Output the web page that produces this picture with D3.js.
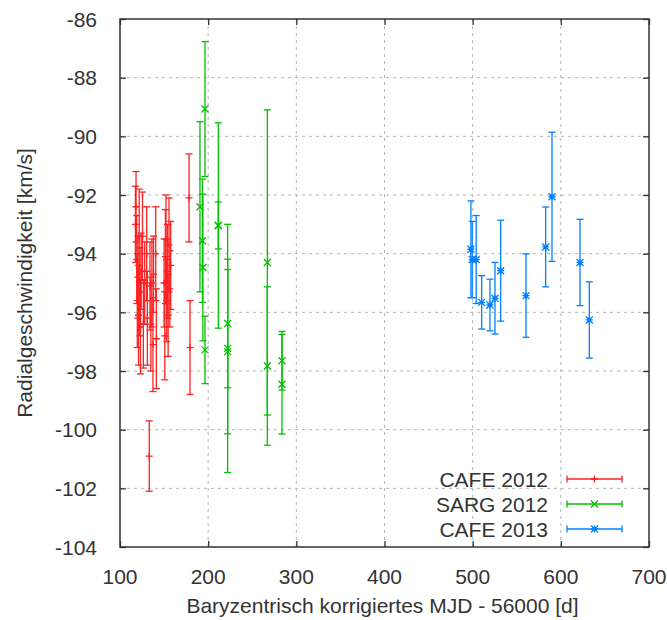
<!DOCTYPE html>
<html>
<head>
<meta charset="utf-8">
<script src="https://cdn.jsdelivr.net/npm/d3@7"></script>
<style>
    body { margin: 0; background: #fff; }
    #chart-area text { font-family: "Liberation Sans", Arial, sans-serif; fill: #333; }
</style>
</head>
<body>
<div id="chart-area"></div>
<script>

// CAFE 2012
let cafe12Mjd = [117.5, 118.2, 119.0, 119.6, 120.3, 121.0, 121.8, 122.5, 123.2, 124.0, 125.5, 126.5, 128.0,
    130.3, 131.0, 133.2, 134.0, 135.0, 136.2, 137.4, 138.0, 140.5, 141.2, 150.0, 150.8, 151.5, 152.2,
    153.0, 153.8, 154.6, 155.6, 156.5, 157.5, 178.3, 179.4];
let cafe12Rv = [-93.0, -92.4, -94.2, -95.6, -94.8, -96.1, -93.4, -95.3, -96.5, -94.6, -93.4, -96.4, -95.0,
    -94.0, -96.2, -100.9, -95.1, -96.4, -95.0, -97.1, -94.7, -94.0, -96.9, -95.0, -96.8, -94.1, -93.5,
    -95.6, -94.6, -96.1, -93.7, -95.2, -94.4, -92.1, -97.2];
let cafe12Err = [1.3, 1.2, 1.5, 1.6, 1.4, 1.7, 1.6, 1.5, 1.6, 1.3, 1.5, 1.5, 1.4,
    1.6, 1.6, 1.2, 1.5, 1.6, 1.5, 1.6, 1.3, 1.6, 1.7, 1.5, 1.5, 1.6, 1.5,
    1.4, 1.6, 1.4, 1.6, 1.3, 1.5, 1.5, 1.6];

// SARG 2012
let sarg12Mjd = [190.7, 193.5, 194.0, 196.4, 196.4, 211.5, 211.5, 222.1, 222.1, 222.1, 267.1, 267.1, 283.7, 283.7];
let sarg12Rv = [-92.4, -93.56, -94.47, -89.07, -97.28, -93.04, -93.04, -96.38, -97.23, -97.34, -94.3, -97.83, -97.65, -98.45];
let sarg12Err = [2.9, 2.1, 2.5, 2.3, 1.15, 3.5, 0.8, 2.19, 4.23, 2.8, 5.2, 2.7, 1.0, 1.7];

// CAFE 2013
let cafe13Mjd = [498, 499.5, 504, 510.2, 519.6, 525.3, 531.8, 560.5, 582.8, 590, 621.7, 632.3];
let cafe13Rv = [-93.85, -94.2, -94.2, -95.66, -95.75, -95.52, -94.58, -95.43, -93.77, -92.06, -94.3, -96.26];
let cafe13Err = [1.65, 1.3, 1.5, 0.91, 0.88, 1.22, 1.72, 1.42, 1.36, 2.2, 1.47, 1.3];

let xTicks = [100, 200, 300, 400, 500, 600, 700];
let yTicks = [-86, -88, -90, -92, -94, -96, -98, -100, -102, -104];

let seriesNames = ["CAFE 2012", "SARG 2012", "CAFE 2013"];
let seriesColors = ["#ff2020", "#00c000", "#0080ff"];
let seriesMarkers = ["plus", "cross", "star"];


class RvVis {

    constructor(parentElement, series) {
        this.parentElement = parentElement;
        this.series = series;

        this.initVis()
    }

    initVis() {
        let vis = this;

        vis.margin = {top: 19, right: 18, bottom: 73, left: 120};
        vis.width = 667 - vis.margin.left - vis.margin.right;
        vis.height = 620 - vis.margin.top - vis.margin.bottom;

        vis.svg = d3.select("#" + vis.parentElement).append("svg")
            .attr("width", 667)
            .attr("height", 620)
            .append("g")
            .attr("transform", `translate(${vis.margin.left}, ${vis.margin.top})`);

        vis.x = d3.scaleLinear().domain([100, 700]).range([0, vis.width]);
        vis.y = d3.scaleLinear().domain([-104, -86]).range([vis.height, 0]);

        vis.capW = 3.5

        vis.drawAxes()
        vis.updateVis()
        vis.drawLegend()
    }

    drawAxes() {
        let vis = this;

        // grid
        vis.svg.append("g").selectAll("line.vgrid")
            .data(xTicks.slice(1, -1))
            .enter().append("line")
            .attr("x1", d => vis.x(d)).attr("x2", d => vis.x(d))
            .attr("y1", 0).attr("y2", vis.height)
            .attr("stroke", "#b4b4b4").attr("stroke-dasharray", "3,4");

        vis.svg.append("g").selectAll("line.hgrid")
            .data(yTicks.slice(1, -1))
            .enter().append("line")
            .attr("y1", d => vis.y(d)).attr("y2", d => vis.y(d))
            .attr("x1", 0).attr("x2", vis.width)
            .attr("stroke", "#b4b4b4").attr("stroke-dasharray", "3,4");

        // ticks on all four sides, pointing inward
        let tickLen = 6;
        let axisStyle = g => {
            g.select(".domain").remove();
            g.selectAll(".tick line").attr("stroke", "#333").attr("stroke-width", 1.3);
            g.selectAll(".tick text").remove();
        };

        vis.svg.append("g").attr("transform", `translate(0, ${vis.height})`)
            .call(d3.axisBottom(vis.x).tickValues(xTicks).tickSizeInner(-tickLen)).call(axisStyle);
        vis.svg.append("g")
            .call(d3.axisTop(vis.x).tickValues(xTicks).tickSizeInner(-tickLen)).call(axisStyle);
        vis.svg.append("g")
            .call(d3.axisLeft(vis.y).tickValues(yTicks).tickSizeInner(-tickLen)).call(axisStyle);
        vis.svg.append("g").attr("transform", `translate(${vis.width}, 0)`)
            .call(d3.axisRight(vis.y).tickValues(yTicks).tickSizeInner(-tickLen)).call(axisStyle);

        // tick labels
        vis.svg.selectAll(".xlabel")
            .data(xTicks)
            .enter().append("text")
            .attr("x", d => vis.x(d))
            .attr("y", vis.height + 36.5)
            .attr("text-anchor", "middle")
            .style("font-size", "21px")
            .text(d => d);

        vis.svg.selectAll(".ylabel")
            .data(yTicks)
            .enter().append("text")
            .attr("x", -23)
            .attr("y", d => vis.y(d) + 7.5)
            .attr("text-anchor", "end")
            .style("font-size", "21px")
            .text(d => d);

        vis.svg.append("rect")
            .attr("width", vis.width).attr("height", vis.height)
            .attr("fill", "none").attr("stroke", "#333").attr("stroke-width", 1.5);

        // axis titles
        vis.svg.append("text")
            .attr("x", vis.width / 2 - 2)
            .attr("y", vis.height + 66)
            .attr("text-anchor", "middle")
            .style("font-size", "21px")
            .text("Baryzentrisch korrigiertes MJD - 56000 [d]");

        vis.svg.append("text")
            .attr("transform", `translate(${-88}, ${vis.height / 2}) rotate(-90)`)
            .attr("text-anchor", "middle")
            .style("font-size", "21px")
            .text("Radialgeschwindigkeit [km/s]");
    }

    markerPath(type) {
        let s = 3.5;
        if (type === "plus") return `M${-s},0H${s}M0,${-s}V${s}`;
        if (type === "cross") return `M${-s},${-s}L${s},${s}M${-s},${s}L${s},${-s}`;
        return `M${-s},0H${s}M0,${-s}V${s}M${-s},${-s}L${s},${s}M${-s},${s}L${s},${-s}`;
    }

    updateVis() {
        let vis = this;

        vis.series.forEach((s, i) => {
            let pts = s.mjd.map((m, j) => ({x: m, rv: s.rv[j], err: s.err[j]}));
            let g = vis.svg.append("g")
                .attr("stroke", seriesColors[i])
                .attr("stroke-width", 1.3)
                .attr("fill", "none");

            let bars = g.selectAll(".bar")
                .data(pts)
                .enter().append("g")
                .attr("class", "bar");

            bars.append("line")
                .attr("x1", d => vis.x(d.x)).attr("x2", d => vis.x(d.x))
                .attr("y1", d => vis.y(d.rv + d.err)).attr("y2", d => vis.y(d.rv - d.err));
            bars.append("line")
                .attr("x1", d => vis.x(d.x) - vis.capW).attr("x2", d => vis.x(d.x) + vis.capW)
                .attr("y1", d => vis.y(d.rv + d.err)).attr("y2", d => vis.y(d.rv + d.err));
            bars.append("line")
                .attr("x1", d => vis.x(d.x) - vis.capW).attr("x2", d => vis.x(d.x) + vis.capW)
                .attr("y1", d => vis.y(d.rv - d.err)).attr("y2", d => vis.y(d.rv - d.err));
            bars.append("path")
                .attr("transform", d => `translate(${vis.x(d.x)}, ${vis.y(d.rv)})`)
                .attr("d", vis.markerPath(seriesMarkers[i]));
        });
    }

    drawLegend() {
        let vis = this;

        let legend = vis.svg.append("g")
            .attr("transform", `translate(0, ${479 - vis.margin.top})`);

        let rows = legend.selectAll(".legend-row")
            .data(seriesNames)
            .enter().append("g")
            .attr("class", "legend-row")
            .attr("transform", (d, i) => `translate(0, ${i * 25})`);

        rows.append("text")
            .attr("x", 548 - vis.margin.left)
            .attr("y", 7.5)
            .attr("text-anchor", "end")
            .style("font-size", "21px")
            .text(d => d);

        let x0 = 567 - vis.margin.left, x1 = 622 - vis.margin.left;
        rows.each(function (d, i) {
            let r = d3.select(this).append("g")
                .attr("stroke", seriesColors[i]).attr("stroke-width", 1.3).attr("fill", "none");
            r.append("line").attr("x1", x0).attr("x2", x1).attr("y1", 0).attr("y2", 0);
            r.append("line").attr("x1", x0).attr("x2", x0).attr("y1", -vis.capW).attr("y2", vis.capW);
            r.append("line").attr("x1", x1).attr("x2", x1).attr("y1", -vis.capW).attr("y2", vis.capW);
            r.append("path")
                .attr("transform", `translate(${(x0 + x1) / 2}, 0)`)
                .attr("d", vis.markerPath(seriesMarkers[i]));
        });
    }
}

let rvVis = new RvVis("chart-area", [
    {mjd: cafe12Mjd, rv: cafe12Rv, err: cafe12Err},
    {mjd: sarg12Mjd, rv: sarg12Rv, err: sarg12Err},
    {mjd: cafe13Mjd, rv: cafe13Rv, err: cafe13Err}
]);

</script>
</body>
</html>
